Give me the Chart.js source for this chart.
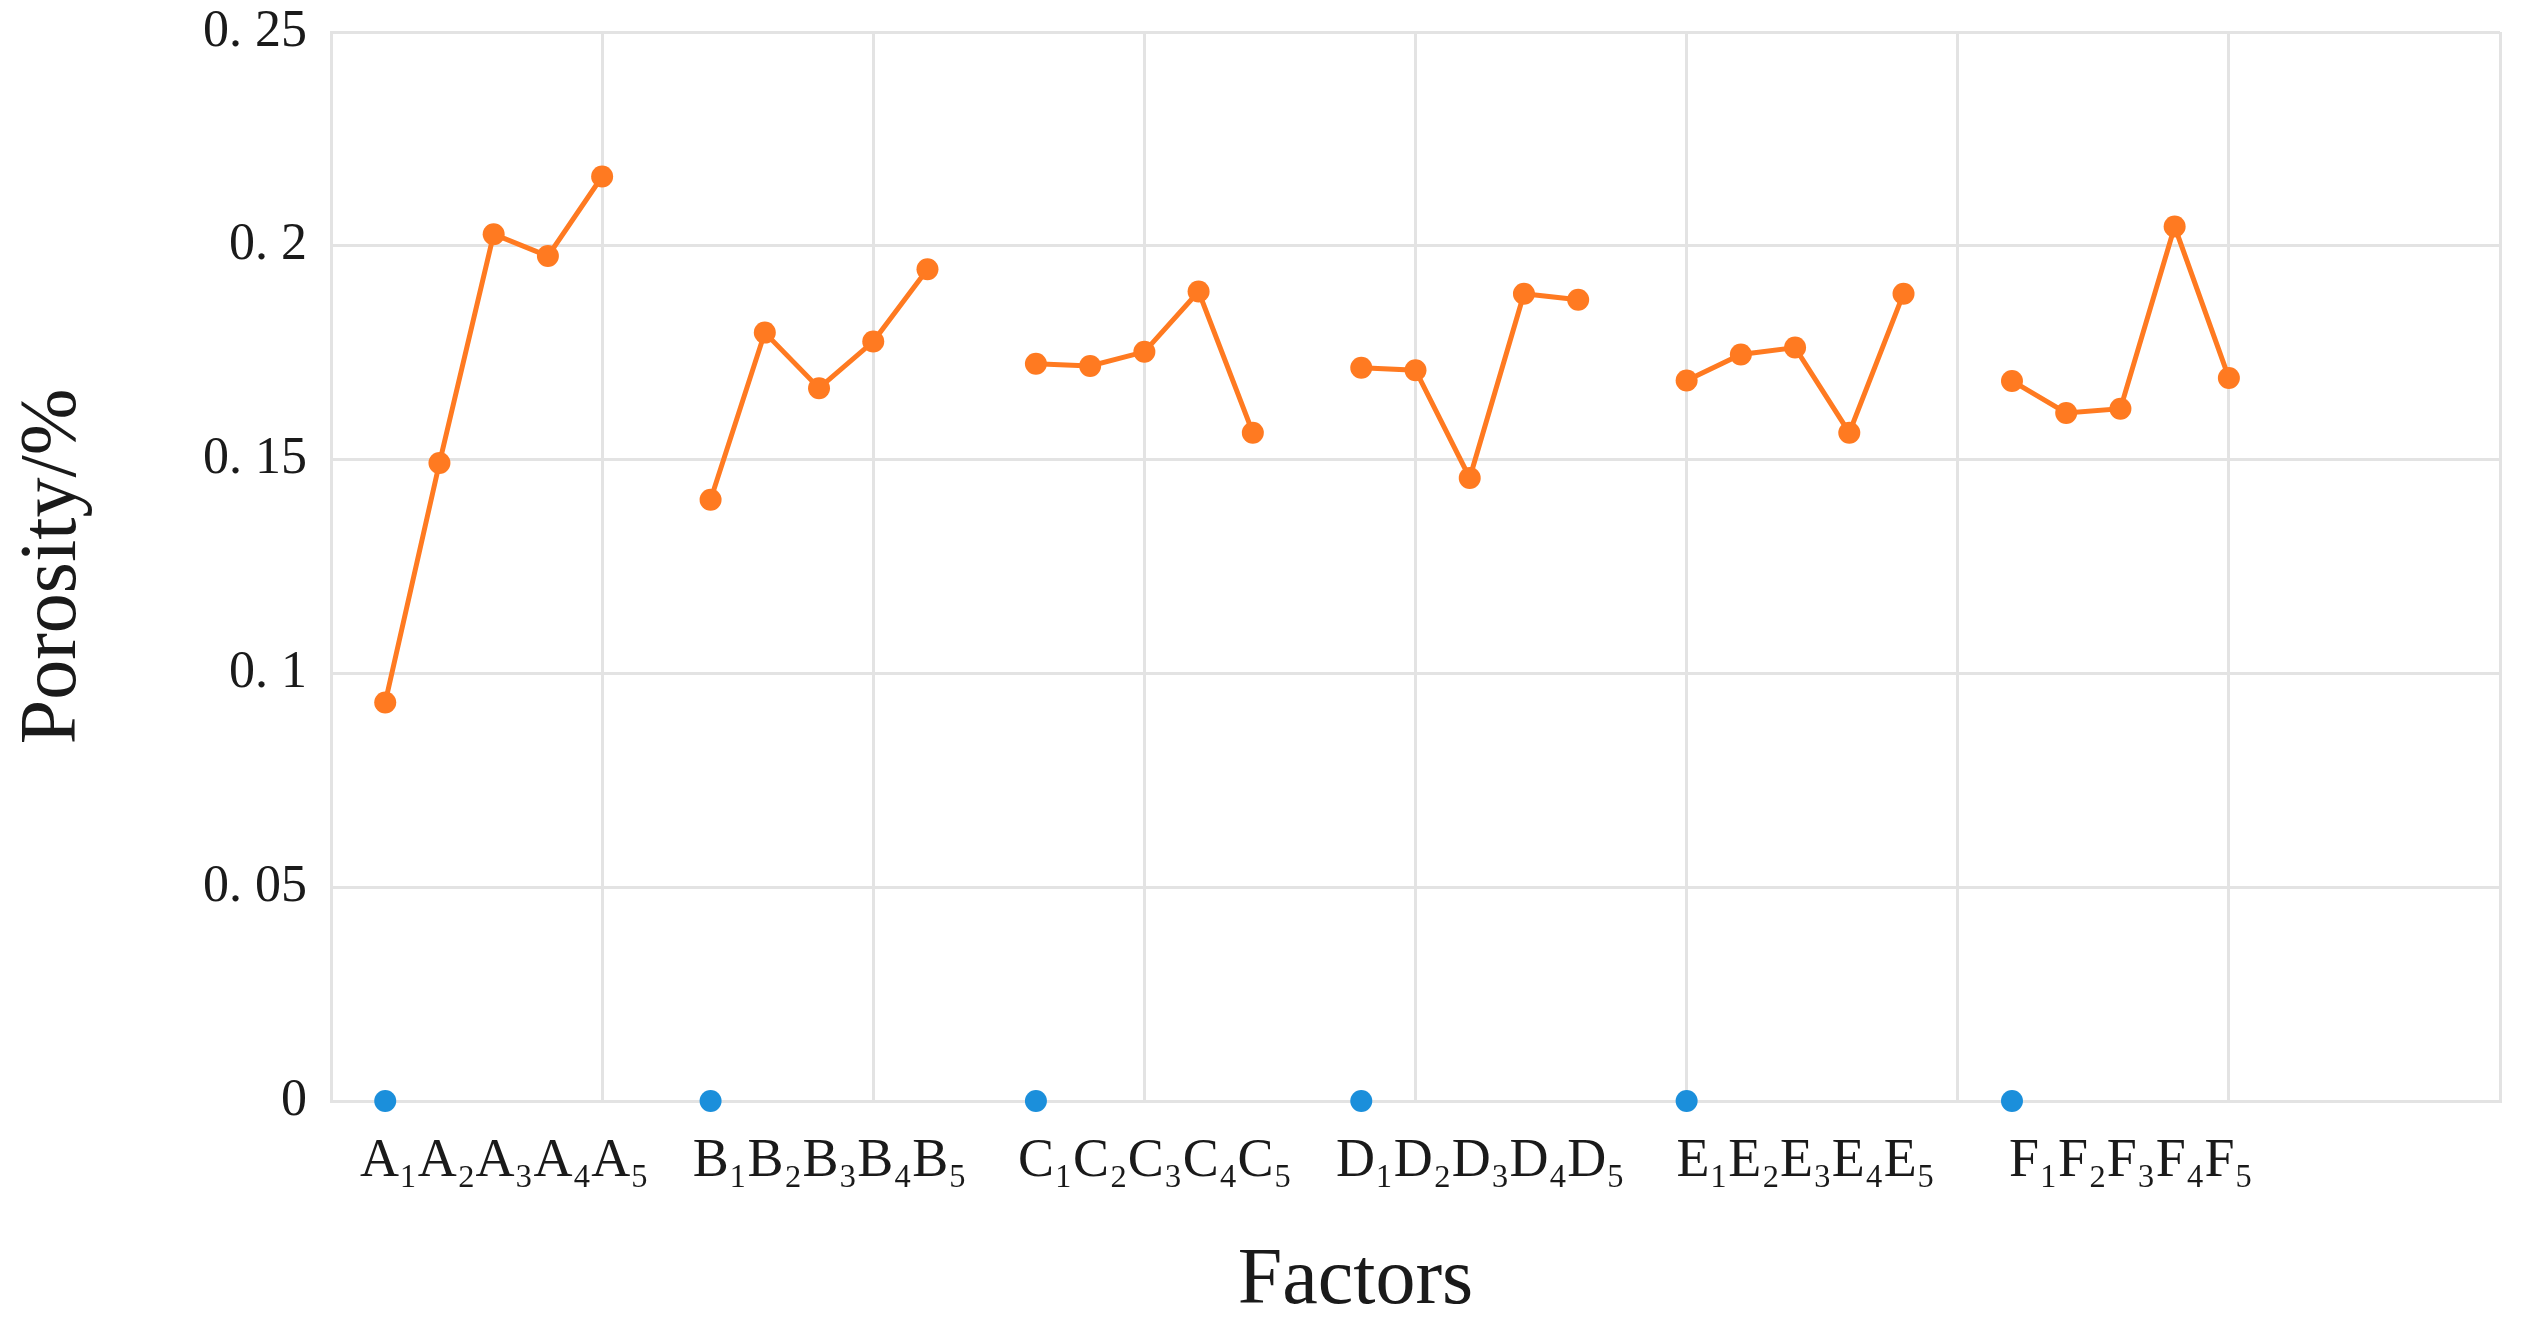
<!DOCTYPE html>
<html lang="en">
<head>
    <meta charset="UTF-8">
    <title>Porosity by factor level</title>
    <script src="https://cdn.jsdelivr.net/npm/chart.js"></script>
    <style>
        html, body {
            margin: 0;
            padding: 0;
            background: #ffffff;
        }
        .chart-box {
            position: relative;
            width: 2532px;
            height: 1338px;
        }
    </style>
</head>
<body>

<div class="chart-box">
    <canvas id="chartCanvas"></canvas>
</div>

<script>
// factor groups and their level readings (porosity)
const factors = ['A', 'B', 'C', 'D', 'E', 'F'];
const porosityA = [0.0932, 0.1492, 0.2027, 0.1976, 0.2162];
const porosityB = [0.1406, 0.1797, 0.1667, 0.1776, 0.1945];
const porosityC = [0.1724, 0.1719, 0.1752, 0.1893, 0.1563];
const porosityD = [0.1715, 0.1709, 0.1457, 0.1888, 0.1874];
const porosityE = [0.1685, 0.1746, 0.1762, 0.1563, 0.1888];
const porosityF = [0.1684, 0.1609, 0.1619, 0.2045, 0.1691];

// x position of level 1 for each factor (one empty slot between groups)
const groupStart = [1, 7, 13, 19, 25, 31];
// blue reference markers sitting on zero
const baseline = [0, 0, 0, 0, 0, 0];

const xTickLabels = ['A₁A₂A₃A₄A₅', 'B₁B₂B₃B₄B₅', 'C₁C₂C₃C₄C₅', 'D₁D₂D₃D₄D₅', 'E₁E₂E₃E₄E₅', 'F₁F₂F₃F₄F₅'];
const yTicks = [0, 0.05, 0.1, 0.15, 0.2, 0.25];

const groups = [porosityA, porosityB, porosityC, porosityD, porosityE, porosityF];

// build one line with breaks between the groups
const linePoints = [];
groups.forEach((vals, g) => {
    vals.forEach((v, i) => linePoints.push({ x: groupStart[g] + i, y: v }));
    linePoints.push({ x: groupStart[g] + vals.length, y: null });
});
const basePoints = baseline.map((v, g) => ({ x: groupStart[g], y: v }));
const labelPos = groupStart.map(s => s + 2.2);

const serif = "'Liberation Serif', 'DejaVu Serif', serif";
const gridColor = '#e3e3e3';
const textColor = '#1a1a1a';

const ctx = document.getElementById('chartCanvas').getContext('2d');
const chart = new Chart(ctx, {
    type: 'line',
    data: {
        datasets: [
            {
                label: 'Porosity',
                data: linePoints,
                borderColor: '#ff7a21',
                backgroundColor: '#ff7a21',
                borderWidth: 5,
                pointRadius: 11,
                pointBorderWidth: 0,
                spanGaps: false,
                tension: 0,
                clip: false
            },
            {
                label: 'Baseline',
                data: basePoints,
                showLine: false,
                borderColor: '#1b8fdb',
                backgroundColor: '#1b8fdb',
                pointRadius: 11,
                pointBorderWidth: 0,
                clip: false
            }
        ]
    },
    options: {
        responsive: true,
        maintainAspectRatio: false,
        animation: false,
        layout: {
            padding: { top: 32, right: 32, left: 0, bottom: 0 }
        },
        plugins: {
            legend: { display: false },
            tooltip: { enabled: false }
        },
        scales: {
            x: {
                type: 'linear',
                position: 'bottom',
                min: 0,
                max: 40,
                ticks: { stepSize: 5, display: false },
                grid: { color: gridColor, lineWidth: 3, drawTicks: false },
                border: { color: gridColor, width: 3 },
                afterFit: axis => { axis.height = 0; }
            },
            xl: {
                type: 'linear',
                position: 'bottom',
                min: 0,
                max: 40,
                grid: { display: false, drawTicks: false },
                border: { display: false },
                afterBuildTicks: axis => {
                    axis.ticks = labelPos.map(v => ({ value: v }));
                },
                ticks: {
                    autoSkip: false,
                    maxRotation: 0,
                    padding: 28,
                    color: textColor,
                    font: { family: serif, size: 54 },
                    callback: (value, index) => xTickLabels[index]
                },
                title: {
                    display: true,
                    // trailing spaces pull the centred title left, as in the source figure
                    text: 'Factors      ',
                    color: textColor,
                    font: { family: serif, size: 80 },
                    padding: { top: 0, bottom: 8 }
                },
                afterFit: axis => { axis.height = 237; }
            },
            y: {
                min: 0,
                max: 0.25,
                afterBuildTicks: axis => {
                    axis.ticks = yTicks.map(v => ({ value: v }));
                },
                ticks: {
                    padding: 24,
                    color: textColor,
                    font: { family: serif, size: 52 },
                    callback: v => String(Math.round(v * 100) / 100).replace('.', '. ')
                },
                grid: { color: gridColor, lineWidth: 3, drawTicks: false },
                border: { color: gridColor, width: 3 },
                title: {
                    display: true,
                    text: 'Porosity/%',
                    color: textColor,
                    font: { family: serif, size: 80 },
                    padding: { top: 6, bottom: 0 }
                },
                afterFit: axis => {
                    axis.width = 331;
                    // top label may overhang; keep the plot top where the figure has it
                    axis.paddingTop = 0;
                }
            }
        }
    }
});
</script>

</body>
</html>
